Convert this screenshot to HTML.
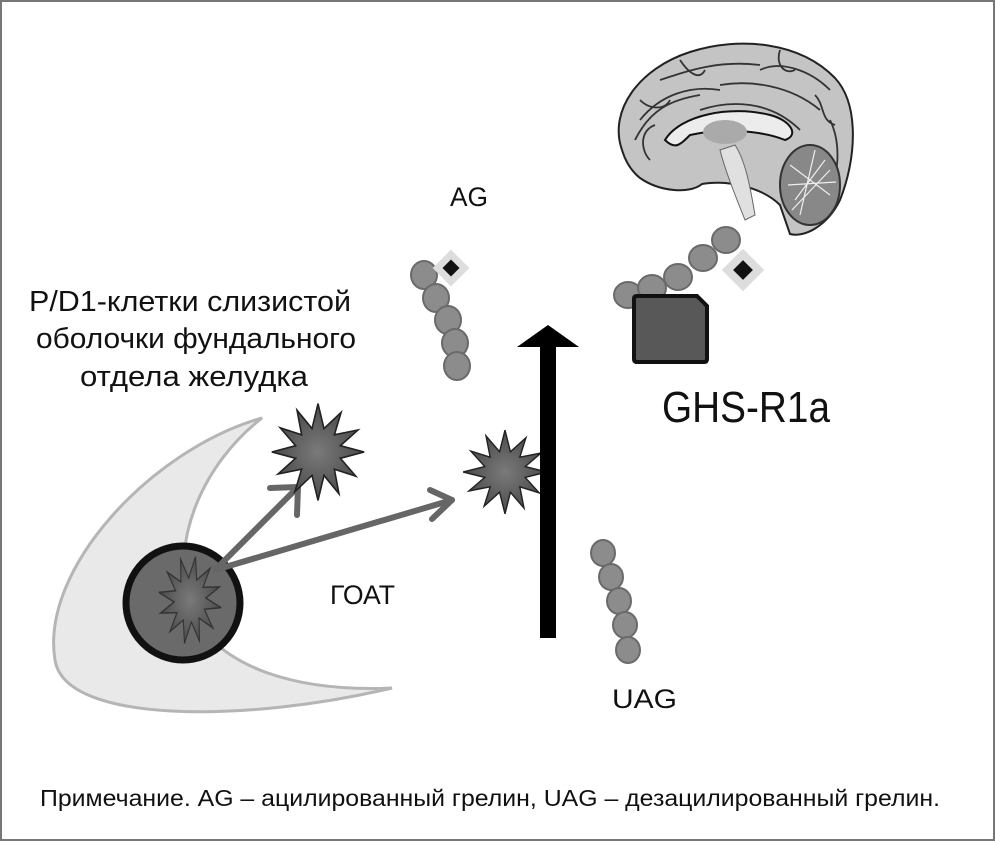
<!DOCTYPE html>
<html><head><meta charset="utf-8"><style>
html,body{margin:0;padding:0;background:#fff}
svg{display:block}
text{font-family:"Liberation Sans",sans-serif;fill:#111}
</style></head><body>
<svg width="995" height="841" viewBox="0 0 995 841" xmlns="http://www.w3.org/2000/svg">
<defs>
<polygon id="st" points="44,0 21.3,5.7 36,22 15.6,15.6 20,38 5.7,21.3 0,44 -5.7,21.3 -22,36 -15.6,15.6 -38,20 -21.3,5.7 -44,0 -21.3,-5.7 -36,-22 -15.6,-15.6 -20,-38 -5.7,-21.3 0,-44 5.7,-21.3 22,-36 15.6,-15.6 38,-20 21.3,-5.7"/>
<radialGradient id="sg"><stop offset="0" stop-color="#7a7a7a"/><stop offset="1" stop-color="#4a4a4a"/></radialGradient>
</defs>
<rect x="1" y="1" width="993" height="839" fill="#fff" stroke="#777" stroke-width="2"/>

<path d="M262,418 C150,450 40,570 55,660 C65,725 250,722 392,688 C300,692 220,670 190,610 C168,540 205,462 262,418 Z" fill="#e9e9e9" stroke="#b5b5b5" stroke-width="3"/>
<circle cx="183" cy="603" r="57" fill="#6a6a6a" stroke="#111" stroke-width="7"/>
<g transform="translate(190,600) scale(0.72,1.0) rotate(10)" fill="url(#sg)" stroke="#333" stroke-width="1.5"><use href="#st"/></g>

<g stroke="#666" stroke-width="6" fill="none" stroke-linecap="round" stroke-linejoin="round">
<line x1="215" y1="570" x2="298" y2="487"/>
<polyline points="270,488 298,487 297,515"/>
<line x1="215" y1="570" x2="452" y2="500"/>
<polyline points="430,490 452,500 432,519"/>
</g>

<g transform="translate(318,452) scale(1.05,1.1)" fill="url(#sg)" stroke="#222" stroke-width="1.5"><use href="#st"/></g>
<g transform="translate(505,472) scale(0.95,0.95)" fill="url(#sg)" stroke="#222" stroke-width="1.5"><use href="#st"/></g>

<rect x="540" y="345" width="16" height="293" fill="#000"/>
<polygon points="517,347 548,325 579,347" fill="#000"/>

<g fill="#8c8c8c" stroke="#6a6a6a" stroke-width="2">
<ellipse cx="424" cy="275" rx="13" ry="14"/><ellipse cx="436" cy="298" rx="13" ry="14"/><ellipse cx="448" cy="320" rx="13" ry="14"/><ellipse cx="455" cy="343" rx="13" ry="14"/><ellipse cx="457" cy="366" rx="13" ry="14"/>
</g>
<g transform="translate(451,268) rotate(45)"><rect x="-13" y="-13" width="26" height="26" fill="#ddd"/><rect x="-6" y="-6" width="12" height="12" fill="#111"/></g>

<g fill="#8c8c8c" stroke="#6a6a6a" stroke-width="2">
<ellipse cx="628" cy="295" rx="14" ry="13"/><ellipse cx="652" cy="288" rx="14" ry="13"/><ellipse cx="678" cy="277" rx="14" ry="13"/><ellipse cx="703" cy="258" rx="14" ry="13"/><ellipse cx="726" cy="240" rx="14" ry="13"/>
</g>
<g transform="translate(743,270) rotate(45)"><rect x="-15" y="-15" width="30" height="30" fill="#ddd"/><rect x="-7" y="-7" width="14" height="14" fill="#111"/></g>
<path d="M637,296 L697,296 L707,306 L707,359 Q707,362 704,362 L637,362 Q634,362 634,359 L634,299 Q634,296 637,296 Z" fill="#585858" stroke="#111" stroke-width="4"/>

<g fill="#8c8c8c" stroke="#6a6a6a" stroke-width="2">
<ellipse cx="603" cy="553" rx="12" ry="13"/><ellipse cx="611" cy="577" rx="12" ry="13"/><ellipse cx="619" cy="601" rx="12" ry="13"/><ellipse cx="625" cy="625" rx="12" ry="13"/><ellipse cx="628" cy="650" rx="12" ry="13"/>
</g>

<g>
<path d="M622,150 C608,110 640,68 690,52 C740,36 800,42 835,78 C860,105 856,160 840,200 C828,225 805,238 790,234 L780,205 C760,185 722,180 702,184 C690,194 660,192 640,178 C630,170 625,160 622,150 Z" fill="#c4c4c4" stroke="#222" stroke-width="2"/>
<g fill="none" stroke="#333" stroke-width="1.8">
<path d="M635,140 C650,110 670,100 700,95 M660,80 C690,70 720,60 760,65 M720,85 C750,80 790,85 820,110 M700,110 C730,100 770,100 800,130 M640,120 C660,95 690,85 720,90 M760,70 C780,60 810,70 830,90 M830,120 C840,140 840,170 830,190 M650,160 C640,150 640,130 655,125 M680,60 C690,75 700,80 705,70 M780,50 C775,65 785,75 795,70 M815,95 C825,105 820,120 835,125 M640,100 C650,110 665,110 670,100"/>
</g>
<path d="M665,140 C680,115 730,105 770,115 C790,120 800,135 785,140 C760,130 720,128 690,135 C680,145 675,150 665,140 Z" fill="#ececec" stroke="#111" stroke-width="2"/>
<ellipse cx="725" cy="132" rx="22" ry="12" fill="#aaa"/>
<path d="M735,145 C745,160 750,185 755,215 L745,220 C735,195 725,170 720,150 Z" fill="#e0e0e0" stroke="#666" stroke-width="1"/>
<ellipse cx="810" cy="185" rx="30" ry="40" fill="#888" stroke="#333" stroke-width="2"/>
<g stroke="#eee" stroke-width="1.2" fill="none"><path d="M790,165 L830,195 M795,200 L825,160 M800,215 L815,150 M788,185 L836,182 M792,210 L830,170"/></g>
</g>

<text x="450" y="206" font-size="27" textLength="38" lengthAdjust="spacingAndGlyphs">AG</text>
<text x="190" y="311" font-size="29" text-anchor="middle" textLength="322" lengthAdjust="spacingAndGlyphs">P/D1-клетки слизистой</text>
<text x="196" y="348" font-size="29" text-anchor="middle" textLength="320" lengthAdjust="spacingAndGlyphs">оболочки фундального</text>
<text x="194" y="386" font-size="29" text-anchor="middle" textLength="228" lengthAdjust="spacingAndGlyphs">отдела желудка</text>
<text x="330" y="604" font-size="27" textLength="65" lengthAdjust="spacingAndGlyphs">ГОАТ</text>
<text x="662" y="422" font-size="44" textLength="168" lengthAdjust="spacingAndGlyphs">GHS-R1a</text>
<text x="612" y="708" font-size="27" textLength="65" lengthAdjust="spacingAndGlyphs">UAG</text>
<text x="40" y="806" font-size="23" textLength="900" lengthAdjust="spacingAndGlyphs">Примечание. AG – ацилированный грелин, UAG – дезацилированный грелин.</text>
</svg>
</body></html>
